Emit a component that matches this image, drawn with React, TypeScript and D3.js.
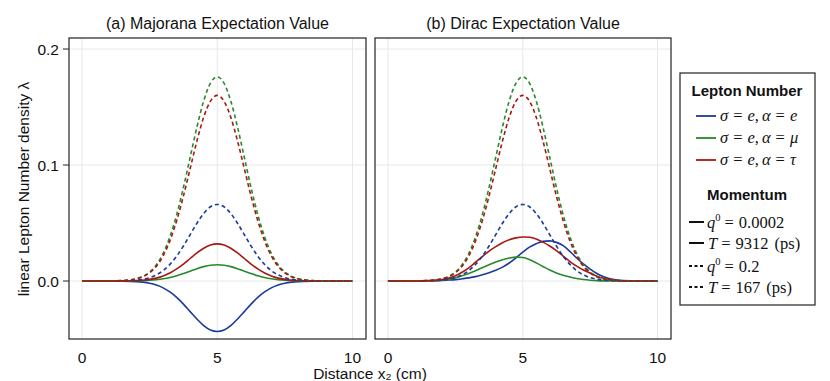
import React from "react";
import * as d3 from "d3";

// distance x2 (cm), shared by every series
const xs = [
  0, 0.5, 1, 1.5, 2, 2.25, 2.5, 2.75, 3, 3.25, 3.5, 3.75, 4, 4.25, 4.5, 4.75, 5,
  5.25, 5.5, 5.75, 6, 6.25, 6.5, 6.75, 7, 7.25, 7.5, 7.75, 8, 8.5, 9, 9.5, 10,
];

// q0 = 0.2 (dashed), same in both panels
const dashedE = [
  0, 0, 0, 0.0001, 0.0007, 0.0015, 0.0029, 0.0053, 0.0089, 0.0143, 0.0214, 0.0302, 0.04, 0.0498, 0.0582, 0.064, 0.066,
  0.064, 0.0582, 0.0498, 0.04, 0.0302, 0.0214, 0.0143, 0.0089, 0.0053, 0.0029, 0.0015, 0.0007, 0.0001, 0, 0, 0,
];
const dashedMu = [
  0, 0, 0.0001, 0.0004, 0.002, 0.004, 0.0077, 0.014, 0.0238, 0.0381, 0.0571, 0.0806, 0.1067, 0.1328, 0.1553, 0.1706, 0.176,
  0.1706, 0.1553, 0.1328, 0.1067, 0.0806, 0.0571, 0.0381, 0.0238, 0.014, 0.0077, 0.004, 0.002, 0.0004, 0.0001, 0, 0,
];
const dashedTau = [
  0, 0, 0, 0.0004, 0.0018, 0.0036, 0.007, 0.0127, 0.0216, 0.0346, 0.052, 0.0732, 0.097, 0.1208, 0.1412, 0.1551, 0.16,
  0.1551, 0.1412, 0.1208, 0.097, 0.0732, 0.052, 0.0346, 0.0216, 0.0127, 0.007, 0.0036, 0.0018, 0.0004, 0, 0, 0,
];

// q0 = 0.0002 (solid), Majorana
const majE = [
  0, 0, 0, -0.0001, -0.0005, -0.001, -0.0019, -0.0035, -0.0059, -0.0094, -0.0141, -0.0199, -0.0264, -0.0328, -0.0384, -0.0422, -0.0435,
  -0.0422, -0.0384, -0.0328, -0.0264, -0.0199, -0.0141, -0.0094, -0.0059, -0.0035, -0.0019, -0.001, -0.0005, -0.0001, 0, 0, 0,
];
const majMu = [
  0, 0, 0, 0, 0.0002, 0.0003, 0.0006, 0.0011, 0.0019, 0.003, 0.0045, 0.0064, 0.0085, 0.0106, 0.0124, 0.0136, 0.014,
  0.0136, 0.0124, 0.0106, 0.0085, 0.0064, 0.0045, 0.003, 0.0019, 0.0011, 0.0006, 0.0003, 0.0002, 0, 0, 0, 0,
];
const majTau = [
  0, 0, 0, 0.0001, 0.0004, 0.0007, 0.0014, 0.0025, 0.0043, 0.0069, 0.0104, 0.0146, 0.0194, 0.0242, 0.0282, 0.031, 0.032,
  0.031, 0.0282, 0.0242, 0.0194, 0.0146, 0.0104, 0.0069, 0.0043, 0.0025, 0.0014, 0.0007, 0.0004, 0.0001, 0, 0, 0,
];

// q0 = 0.0002 (solid), Dirac
const dirE = [
  0, 0, 0, 0.0002, 0.0005, 0.0008, 0.0012, 0.0019, 0.0027, 0.0038, 0.0054, 0.0072, 0.0093, 0.012, 0.0155, 0.02, 0.0248,
  0.0292, 0.0322, 0.0342, 0.0346, 0.0333, 0.0305, 0.0255, 0.0198, 0.0147, 0.0103, 0.0065, 0.0037, 0.0008, 0.0001, 0, 0,
];
const dirMu = [
  0, 0, 0, 0.0002, 0.0009, 0.0016, 0.0027, 0.0045, 0.0065, 0.0088, 0.0115, 0.014, 0.0163, 0.0183, 0.0198, 0.0206, 0.0203,
  0.0185, 0.0156, 0.0125, 0.0095, 0.007, 0.005, 0.0035, 0.0022, 0.0013, 0.0007, 0.0003, 0.0001, 0, 0, 0, 0,
];
const dirTau = [
  0, 0, 0, 0.0003, 0.0012, 0.0025, 0.0045, 0.0075, 0.0113, 0.0162, 0.021, 0.0258, 0.0296, 0.033, 0.0355, 0.0372, 0.038,
  0.0377, 0.0362, 0.0335, 0.0302, 0.0262, 0.0215, 0.0168, 0.0128, 0.0095, 0.0068, 0.0042, 0.0023, 0.0005, 0, 0, 0,
];

const xTicks = [0, 5, 10];
const yTicks = [0, 0.1, 0.2];
const yTickLabels = ["0.0", "0.1", "0.2"];

const BLUE = "#1a3a9c";
const GREEN = "#258a2a";
const RED = "#a8180f";
const SANS = "'Liberation Sans', Arial, sans-serif";
const SERIF = "'Liberation Serif', 'DejaVu Serif', serif";

const top = 38;
const bottom = 339;

function Panel({ left, right, title, solids, showY }) {
  const x = d3.scaleLinear().domain([-0.48, 10.5]).range([left, right]);
  const y = d3.scaleLinear().domain([-0.05, 0.2095]).range([bottom, top]);
  const line = d3
    .line<number>()
    .x((_, i) => x(xs[i]))
    .y((d) => y(d))
    .curve(d3.curveMonotoneX);

  const dashed = [
    [dashedE, BLUE],
    [dashedMu, GREEN],
    [dashedTau, RED],
  ];

  return (
    <g>
      <text x={(left + right) / 2} y={29} textAnchor="middle" fontSize={16} fontFamily={SANS} fill="#111">
        {title}
      </text>
      <clipPath id={`clip-${left}`}>
        <rect x={left} y={top} width={right - left} height={bottom - top} />
      </clipPath>
      {xTicks.map((t) => (
        <line key={`gx${t}`} x1={x(t)} x2={x(t)} y1={top} y2={bottom} stroke="#e8e8e8" />
      ))}
      {yTicks.map((t) => (
        <line key={`gy${t}`} x1={left} x2={right} y1={y(t)} y2={y(t)} stroke="#e8e8e8" />
      ))}
      <g clipPath={`url(#clip-${left})`} fill="none">
        {solids.map(([vals, c], i) => (
          <path key={`s${i}`} d={line(vals)} stroke={c} strokeWidth={1.6} />
        ))}
        {dashed.map(([vals, c], i) => (
          <path key={`d${i}`} d={line(vals)} stroke={c} strokeWidth={1.6} strokeDasharray="4,3" />
        ))}
      </g>
      <rect x={left} y={top} width={right - left} height={bottom - top} fill="none" stroke="#222" strokeWidth={1.2} />
      {xTicks.map((t) => (
        <text key={`tx${t}`} x={x(t)} y={363} textAnchor="middle" fontSize={15.5} fontFamily={SANS} fill="#111">
          {t}
        </text>
      ))}
      {showY &&
        yTicks.map((t, i) => (
          <g key={`ty${t}`}>
            <line x1={left - 6} x2={left} y1={y(t)} y2={y(t)} stroke="#222" />
            <text x={left - 10} y={y(t) + 5.5} textAnchor="end" fontSize={15.5} fontFamily={SANS} fill="#111">
              {yTickLabels[i]}
            </text>
          </g>
        ))}
    </g>
  );
}

const GAP = 5;
const MATH_SIZE = 16.5;

function MathEq({ x, y, sym, rest }) {
  return (
    <text x={x} y={y} fontSize={MATH_SIZE} fontFamily={SERIF} fill="#111">
      <tspan fontStyle="italic">{sym}</tspan>
      <tspan dx={GAP}>=</tspan>
      <tspan dx={GAP} fontStyle="italic">e</tspan>
      <tspan>,</tspan>
      <tspan dx={3} fontStyle="italic">α</tspan>
      <tspan dx={GAP}>=</tspan>
      <tspan dx={GAP} fontStyle="italic">{rest}</tspan>
    </text>
  );
}

function Legend() {
  const lepton = [
    [BLUE, "e"],
    [GREEN, "μ"],
    [RED, "τ"],
  ];
  const ly = [116, 138, 160];
  const my = [222, 243, 266, 287];
  return (
    <g>
      <rect x={680} y={73} width={135} height={232} fill="white" stroke="#222" strokeWidth={1.2} />
      <text x={747} y={96} textAnchor="middle" fontSize={15} fontWeight="bold" fontFamily={SANS} fill="#111">
        Lepton Number
      </text>
      {lepton.map(([c, a], i) => (
        <g key={a}>
          <line x1={696} x2={716} y1={ly[i]} y2={ly[i]} stroke={c} strokeWidth={1.8} />
          <MathEq x={720} y={ly[i] + 5} sym="σ" rest={a} />
        </g>
      ))}
      <text x={747} y={200} textAnchor="middle" fontSize={15} fontWeight="bold" fontFamily={SANS} fill="#111">
        Momentum
      </text>
      {my.map((yy, i) => (
        <line
          key={`ml${i}`}
          x1={689}
          x2={704}
          y1={yy}
          y2={yy}
          stroke="#111"
          strokeWidth={2}
          strokeDasharray={i < 2 ? undefined : "3,2.5"}
        />
      ))}
      <text x={707} y={my[0] + 5.5} fontSize={MATH_SIZE} fontFamily={SERIF} fill="#111">
        <tspan fontStyle="italic">q</tspan>
        <tspan dy={-7} fontSize={10.5}>0</tspan>
        <tspan dy={7} dx={GAP - 1}>=</tspan>
        <tspan dx={GAP}>0.0002</tspan>
      </text>
      <text x={708} y={my[1] + 5.5} fontSize={MATH_SIZE} fontFamily={SERIF} fill="#111">
        <tspan fontStyle="italic">T</tspan>
        <tspan dx={GAP - 1}>=</tspan>
        <tspan dx={GAP}>9312</tspan>
        <tspan dx={6}>(ps)</tspan>
      </text>
      <text x={707} y={my[2] + 5.5} fontSize={MATH_SIZE} fontFamily={SERIF} fill="#111">
        <tspan fontStyle="italic">q</tspan>
        <tspan dy={-7} fontSize={10.5}>0</tspan>
        <tspan dy={7} dx={GAP - 1}>=</tspan>
        <tspan dx={GAP}>0.2</tspan>
      </text>
      <text x={708} y={my[3] + 5.5} fontSize={MATH_SIZE} fontFamily={SERIF} fill="#111">
        <tspan fontStyle="italic">T</tspan>
        <tspan dx={GAP - 1}>=</tspan>
        <tspan dx={GAP}>167</tspan>
        <tspan dx={6}>(ps)</tspan>
      </text>
    </g>
  );
}

export default function App() {
  return (
    <svg width={830} height={381} style={{ position: "absolute", left: 0, top: 0, background: "white" }}>
      <Panel
        left={69}
        right={366}
        title="(a) Majorana Expectation Value"
        showY
        solids={[
          [majE, BLUE],
          [majMu, GREEN],
          [majTau, RED],
        ]}
      />
      <Panel
        left={375}
        right={671}
        title="(b) Dirac Expectation Value"
        showY={false}
        solids={[
          [dirE, BLUE],
          [dirMu, GREEN],
          [dirTau, RED],
        ]}
      />
      <text
        transform="translate(29,189) rotate(-90)"
        textAnchor="middle"
        fontSize={15.5}
        fontFamily={SANS}
        fill="#111"
      >
        linear Lepton Number density λ
      </text>
      <text x={370} y={379} textAnchor="middle" fontSize={15.5} fontFamily={SANS} fill="#111">
        Distance x₂ (cm)
      </text>
      <Legend />
    </svg>
  );
}
